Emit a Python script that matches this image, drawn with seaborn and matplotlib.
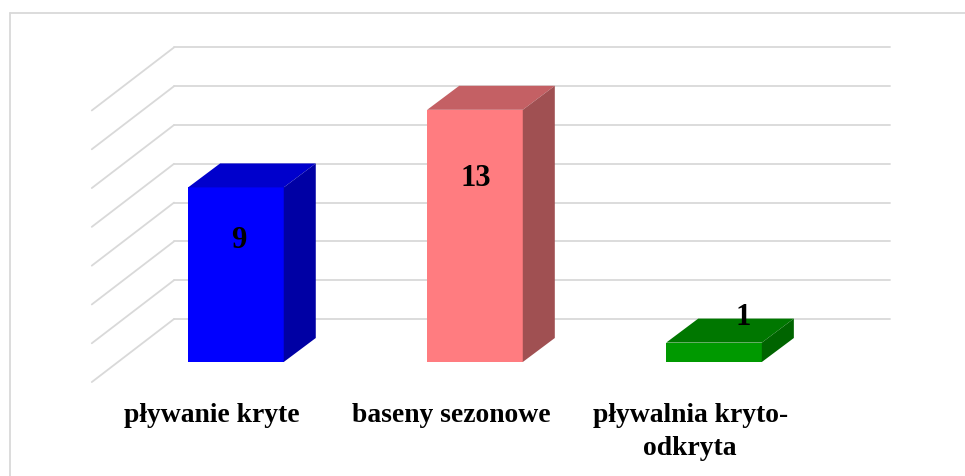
import matplotlib
matplotlib.use('Agg')
import matplotlib.pyplot as plt
import seaborn as sns

# Dane
categories = ["pływanie kryte", "baseny sezonowe", "pływalnia kryto-\nodkryta"]
values = [9, 13, 1]
grid_values = [0, 2, 4, 6, 8, 10, 12, 14]

# Kolory: przód, góra, bok
front_colors = ["#0000FF", "#FF7C80", "#009900"]
top_colors = ["#0000CC", "#C46064", "#007700"]
side_colors = ["#0000A4", "#A05052", "#006400"]

# przesunięcia etykiet wartości (styl)
label_dx = [0.012, 0.004, 0.121]
label_dy = [-3.12, -3.93, 0.91]

sns.set_style("white")
fig = plt.figure(figsize=(9.65, 4.76), dpi=100)
ax = fig.add_axes([0, 0, 1, 1])

sns.barplot(x=categories, y=values, hue=categories, palette=front_colors,
            saturation=1, width=0.4, linewidth=0, legend=False, ax=ax, zorder=2)

# 1 jednostka x = 239 px, 1 jednostka y = 19.4 px
ax.set_xlim(-0.987, 3.050)
ax.set_ylim(-5.876, 18.66)
ax.axis('off')

# Tylna ściana i siatka 3D
depth_y = 2.216
wall_left, wall_right = -0.259, 2.736
diag_dx, diag_dy = -0.344, -3.25
for v in grid_values:
    yb = v + depth_y
    ax.plot([wall_left, wall_right], [yb, yb], color="#D9D9D9", lw=1.3, zorder=0.5)
    ax.plot([wall_left, wall_left + diag_dx], [yb, yb + diag_dy], color="#D9D9D9", lw=1.3, zorder=0.5)

# Boki i góry słupków
dx, dy = 0.134, 1.237
for bar, tc, sc in zip(ax.patches, top_colors, side_colors):
    x0 = bar.get_x()
    x1 = x0 + bar.get_width()
    h = bar.get_height()
    ax.fill([x0, x0 + dx, x1 + dx, x1], [h, h + dy, h + dy, h], color=tc, lw=0, zorder=2)
    ax.fill([x1, x1 + dx, x1 + dx, x1], [0, dy, h + dy, h], color=sc, lw=0, zorder=2)

# Etykiety wartości
serif = ["Liberation Serif", "DejaVu Serif"]
for i, v in enumerate(values):
    ax.text(i + label_dx[i], v + label_dy[i], str(v), ha='center', va='baseline',
            fontsize=22, fontweight='bold', family=serif, color='black', zorder=3)

# Etykiety kategorii (każda linia osobno, od linii bazowej)
for i, c in enumerate(categories):
    for j, line in enumerate(c.split("\n")):
        ax.text(i - 0.1, -3.09 - j * 1.70, line, ha='center', va='baseline', fontsize=19.9,
                fontweight='bold', family=serif, color='black')

# Ramka wykresu
fig.add_artist(plt.Line2D([10 / 965, 10 / 965], [0, 1 - 13 / 476], color="#D9D9D9", lw=1.3))
fig.add_artist(plt.Line2D([10 / 965, 1], [1 - 13 / 476, 1 - 13 / 476], color="#D9D9D9", lw=1.3))

fig.savefig("out.png", dpi=100)
plt.close(fig)
